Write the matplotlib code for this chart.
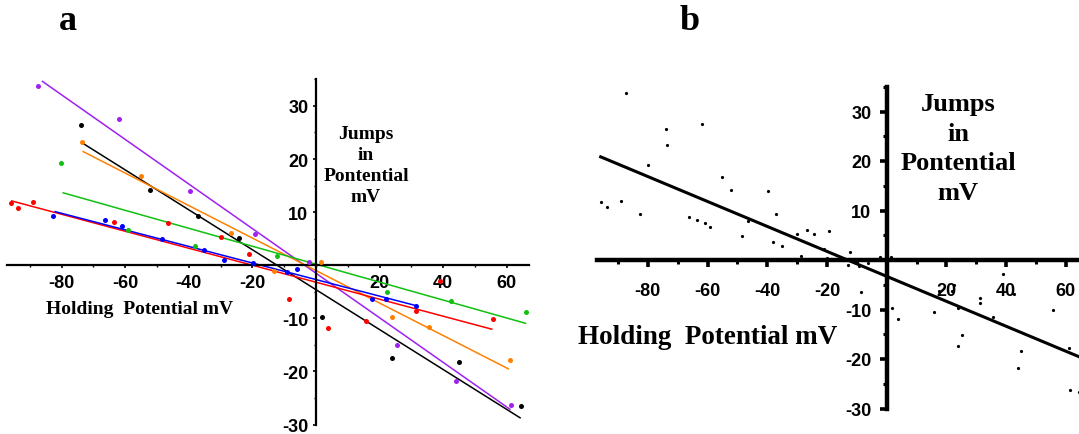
import numpy as np
import matplotlib
matplotlib.use('Agg')
import matplotlib.pyplot as plt
from matplotlib.ticker import MultipleLocator, FixedLocator

# jumps in potential (mV) vs holding potential (mV), one series per colour
purple_x = [-87.3, -61.8, -39.7, -19.2, -2.2, 25.4, 44.0, 61.3]
purple_y = [33.8, 27.5, 14.0, 5.9, 0.6, -15.1, -21.8, -26.3]
black_x = [-74.0, -52.2, -37.0, -24.3, 1.8, 23.9, 45.0, 64.5]
black_y = [26.5, 14.1, 9.3, 5.2, -9.7, -17.4, -18.3, -26.6]
orange_x = [-73.5, -55.0, -26.8, -13.1, 1.6, 24.0, 35.6, 61.0]
orange_y = [23.3, 16.8, 6.1, -1.0, 0.6, -9.7, -11.6, -17.8]
green_x = [-80.1, -59.2, -38.1, -12.4, 22.4, 42.5, 65.9]
green_y = [19.2, 6.7, 3.7, 1.7, -5.1, -6.8, -8.8]
red_x = [-95.8, -93.7, -89.0, -63.5, -46.4, -30.0, -21.0, -8.6, 3.9, 15.7, 31.4, 39.0, 55.6]
red_y = [11.8, 10.8, 11.9, 8.1, 7.9, 5.3, 2.2, -6.4, -11.9, -10.5, -8.6, -2.9, -10.1]
blue_x = [-82.6, -66.3, -61.0, -48.5, -35.1, -28.8, -19.9, -9.2, -6.1, 17.5, 22.0, 31.4]
blue_y = [9.3, 8.6, 7.4, 4.9, 2.9, 0.9, 0.5, -1.3, -0.7, -6.3, -6.3, -7.6]

# fitted lines: slope, intercept, x range
purple_fit = (-0.42, -1.5, -86.0, 61.0)
black_fit = (-0.376, -4.6, -73.2, 64.2)
orange_fit = (-0.306, -1.0, -73.2, 60.5)
green_fit = (-0.169, 0.2, -79.5, 65.9)
red_fit = (-0.160, -3.2, -95.7, 55.3)
blue_fit = (-0.156, -2.7, -82.0, 31.4)
pooled_fit = (-0.252, -3.3, -95.8, 66.0)

series = [
    (purple_x, purple_y, purple_fit, '#A020F0'),
    (black_x, black_y, black_fit, 'black'),
    (orange_x, orange_y, orange_fit, '#FF8000'),
    (green_x, green_y, green_fit, '#11C011'),
    (red_x, red_y, red_fit, '#FF0000'),
    (blue_x, blue_y, blue_fit, '#0000FF'),
]

x_ticks = [-80, -60, -40, -20, 20, 40, 60]
y_ticks = [-30, -20, -10, 10, 20, 30]

W, H = 1079, 435
fig = plt.figure(figsize=(W / 100, H / 100), dpi=100)

tickfont = {'family': 'Liberation Sans', 'weight': 'bold', 'size': 13}
serif = 'Liberation Serif'


def setup_axes(ax, spine_w, maj_len, maj_w, min_len, min_w, xpad, ypad):
    ax.set_xlim(-97, 67)
    ax.set_ylim(-30, 35)
    for s in ['top', 'right']:
        ax.spines[s].set_visible(False)
    ax.spines['left'].set_position(('data', 0))
    ax.spines['bottom'].set_position(('data', 0))
    ax.spines['left'].set_linewidth(spine_w)
    ax.spines['bottom'].set_linewidth(spine_w)
    ax.xaxis.set_major_locator(FixedLocator(x_ticks))
    ax.yaxis.set_major_locator(FixedLocator(y_ticks))
    ax.xaxis.set_minor_locator(MultipleLocator(10))
    ax.yaxis.set_minor_locator(MultipleLocator(5))
    ax.tick_params(which='major', direction='out', length=maj_len, width=maj_w)
    ax.tick_params(which='minor', direction='out', length=min_len, width=min_w)
    ax.tick_params(axis='x', pad=xpad)
    ax.tick_params(axis='y', pad=ypad)
    ax.set_xticklabels([str(t) for t in x_ticks], fontdict=tickfont)
    ax.set_yticklabels([str(t) for t in y_ticks], fontdict=tickfont)
    ax.patch.set_visible(False)


# panel a
ax1 = fig.add_axes([7.5 / W, 1 - 425.5 / H, 521.5 / W, 345.1 / H])
setup_axes(ax1, 1.6, 2.5, 1.2, 1.2, 1.0, 4, 3)
for xs, ys, fit, c in series:
    k, b0, x0, x1 = fit
    lx = np.array([x0, x1])
    ax1.plot(lx, k * lx + b0, color=c, lw=1.1, zorder=2)
    ax1.plot(xs, ys, 'o', color=c, ms=3.6, mec='none', zorder=3)
ax1.set_xlim(-97, 67)

# panel b: all points pooled, one fit
ax2 = fig.add_axes([597.1 / W, 1 - 409.5 / H, 483.6 / W, 321.75 / H])
setup_axes(ax2, 3.2, 5, 2.6, 3, 2.2, 11, 6)
ax2.set_xlim(-97, 65)
all_x = np.concatenate([np.array(s[0]) for s in series])
all_y = np.concatenate([np.array(s[1]) for s in series])
k, b0, x0, x1 = pooled_fit
lx = np.array([x0, x1])
ax2.plot(lx, k * lx + b0, color='black', lw=2.2, zorder=2)
ax2.plot(all_x, all_y, 'o', color='black', ms=2.3, mec='none', zorder=3)

# labels
fig.text(140 / W, 1 - 310 / H, 'Holding  Potential mV', family=serif,
         weight='bold', size=14, ha='center', va='center')
fig.text(366 / W, 1 - 166 / H, 'Jumps\nin\nPontential\nmV', family=serif,
         weight='bold', size=14, ha='center', va='center', linespacing=1.3)
fig.text(708 / W, 1 - 338 / H, 'Holding  Potential mV', family=serif,
         weight='bold', size=19.5, ha='center', va='center')
fig.text(958 / W, 1 - 149 / H, 'Jumps\nin\nPontential\nmV', family=serif,
         weight='bold', size=19, ha='center', va='center', linespacing=1.38)
fig.text(68 / W, 1 - 22 / H, 'a', family=serif, weight='bold', size=26,
         ha='center', va='center')
fig.text(690 / W, 1 - 22 / H, 'b', family=serif, weight='bold', size=26,
         ha='center', va='center')

fig.savefig('out.png', dpi=100)
